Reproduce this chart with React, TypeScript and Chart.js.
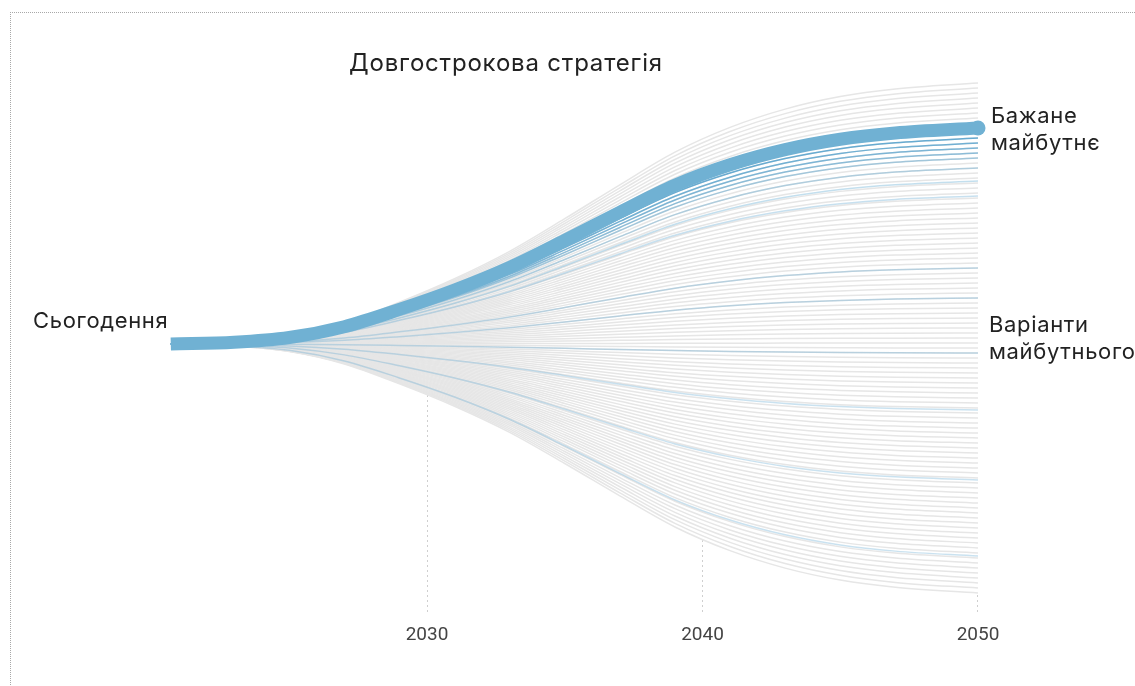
import React, { useEffect, useRef } from "react";
import { Chart, registerables } from "chart.js";

Chart.register(...registerables);

// Years sampled along each path, and the shared shape of the paths (share of the final change reached)
const years = [2020.7, 2023, 2025, 2027, 2029, 2031, 2033, 2035, 2037, 2039, 2041, 2043, 2045, 2047, 2050];
const profile = [0, 0.008, 0.03, 0.08, 0.16, 0.25, 0.355, 0.48, 0.61, 0.735, 0.83, 0.9, 0.948, 0.977, 1];

// End values (2050) of the grey possible-future paths
const greyEnds = [
  261, 256, 251, 246, 241, 236, 231, 226, 221, 216, 211, 206, 201, 196, 191, 186, 181, 176, 171, 166,
  161, 156, 151, 146, 141, 136, 131, 126, 121, 116, 111, 106, 101, 96, 91, 86, 81, 76, 71, 66,
  61, 56, 51, 46, 41, 36, 31, 26, 21, 16, 11, 6, 1, -4, -9, -14, -19, -24, -29, -34,
  -39, -44, -49, -54, -59, -64, -69, -74, -79, -84, -89, -94, -99, -104, -109, -114, -119, -124, -129, -134,
  -139, -144, -149, -154, -159, -164, -169, -174, -179, -184, -189, -194, -199, -204, -209, -214, -219, -224, -229, -234,
  -239, -244, -249,
];

// End values of the highlighted (blue) paths and their strength
const blueEnds = [206, 201, 196, 191, 186, 176, 163, 148, 76, 46, -9, -66, -136, -212];
const blueAlphas = [0.85, 0.78, 0.7, 0.6, 0.45, 0.36, 0.34, 0.32, 0.3, 0.3, 0.3, 0.3, 0.3, 0.3];

// The desired-future path
const targetEnd = 216;

const tickYears = [2030, 2040, 2050];

function series(end: number) {
  return years.map((x, i) => ({ x, y: profile[i] * end }));
}

export default function App() {
  const ref = useRef<HTMLCanvasElement | null>(null);

  useEffect(() => {
    if (!ref.current) return;
    const datasets: any[] = [];
    datasets.push({
      data: series(targetEnd),
      borderColor: "#70b1d3",
      backgroundColor: "#70b1d3",
      borderWidth: 13,
      pointRadius: years.map((_, i) => (i === years.length - 1 ? 7.5 : 0)),
      pointBorderWidth: 0,
      pointHoverRadius: 0,
      cubicInterpolationMode: "monotone",
      fill: false,
    });
    blueEnds.forEach((e, i) =>
      datasets.push({
        data: series(e),
        borderColor: `rgba(80,160,205,${blueAlphas[i]})`,
        borderWidth: 1.5,
        pointRadius: 0,
        cubicInterpolationMode: "monotone",
        fill: false,
      })
    );
    greyEnds.forEach((e, i) =>
      datasets.push({
        data: series(e),
        borderColor: "#e6e6e6",
        backgroundColor: "#ffffff",
        borderWidth: 1.5,
        pointRadius: 0,
        cubicInterpolationMode: "monotone",
        fill: i === greyEnds.length - 1 ? "end" : false,
      })
    );

    const chart = new Chart(ref.current, {
      type: "line",
      data: { datasets },
      options: {
        animation: false,
        responsive: false,
        events: [],
        layout: { padding: { left: 151.5, right: 101.9, top: 60, bottom: 44 } },
        plugins: {
          legend: { display: false },
          tooltip: { enabled: false },
          filler: { drawTime: "beforeDatasetsDraw" },
        } as any,
        scales: {
          x: {
            type: "linear",
            min: 2020,
            max: 2052,
            afterBuildTicks: (axis: any) => {
              axis.ticks = tickYears.map((v) => ({ value: v }));
            },
            afterFit: (axis: any) => {
              axis.height = 30;
            },
            grid: { color: "#cfcfcf", lineWidth: 1, drawTicks: false },
            border: { display: false, dash: [2, 3] },
            ticks: {
              padding: 12,
              color: "#444",
              font: { family: "Roboto", size: 19 },
              callback: (v: any) => String(v),
              maxRotation: 0,
              autoSkip: false,
            },
          } as any,
          y: { type: "linear", display: false, min: -268, max: 284 },
        },
      },
    });
    return () => chart.destroy();
  }, []);

  const textStyle: React.CSSProperties = {
    position: "absolute",
    fontFamily: "Inter, 'Noto Sans', sans-serif",
    color: "#222",
    fontSize: 22,
    letterSpacing: "0.65px",
    lineHeight: "27px",
    whiteSpace: "nowrap",
  };

  return (
    <div
      style={{
        position: "fixed",
        left: 0,
        top: 0,
        width: 1135,
        height: 686,
        overflow: "hidden",
        background: "#fff",
      }}
    >
      <div
        style={{
          position: "absolute",
          left: 10,
          top: 12,
          width: 3000,
          height: 3000,
          borderTop: "1px dotted #a8a8a8",
          borderLeft: "1px dotted #a8a8a8",
        }}
      />
      <canvas ref={ref} width={1135} height={686} style={{ position: "absolute", left: 0, top: 0, display: "block" }} />
      <div style={{ ...textStyle, left: 349, top: 47, fontSize: 24, letterSpacing: "0.8px", lineHeight: "32px" }}>
        Довгострокова стратегія
      </div>
      <div style={{ ...textStyle, left: 33, top: 307 }}>Сьогодення</div>
      <div style={{ ...textStyle, left: 991, top: 102 }}>
        Бажане
        <br />
        майбутнє
      </div>
      <div style={{ ...textStyle, left: 989, top: 311 }}>
        Варіанти
        <br />
        майбутнього
      </div>
    </div>
  );
}
